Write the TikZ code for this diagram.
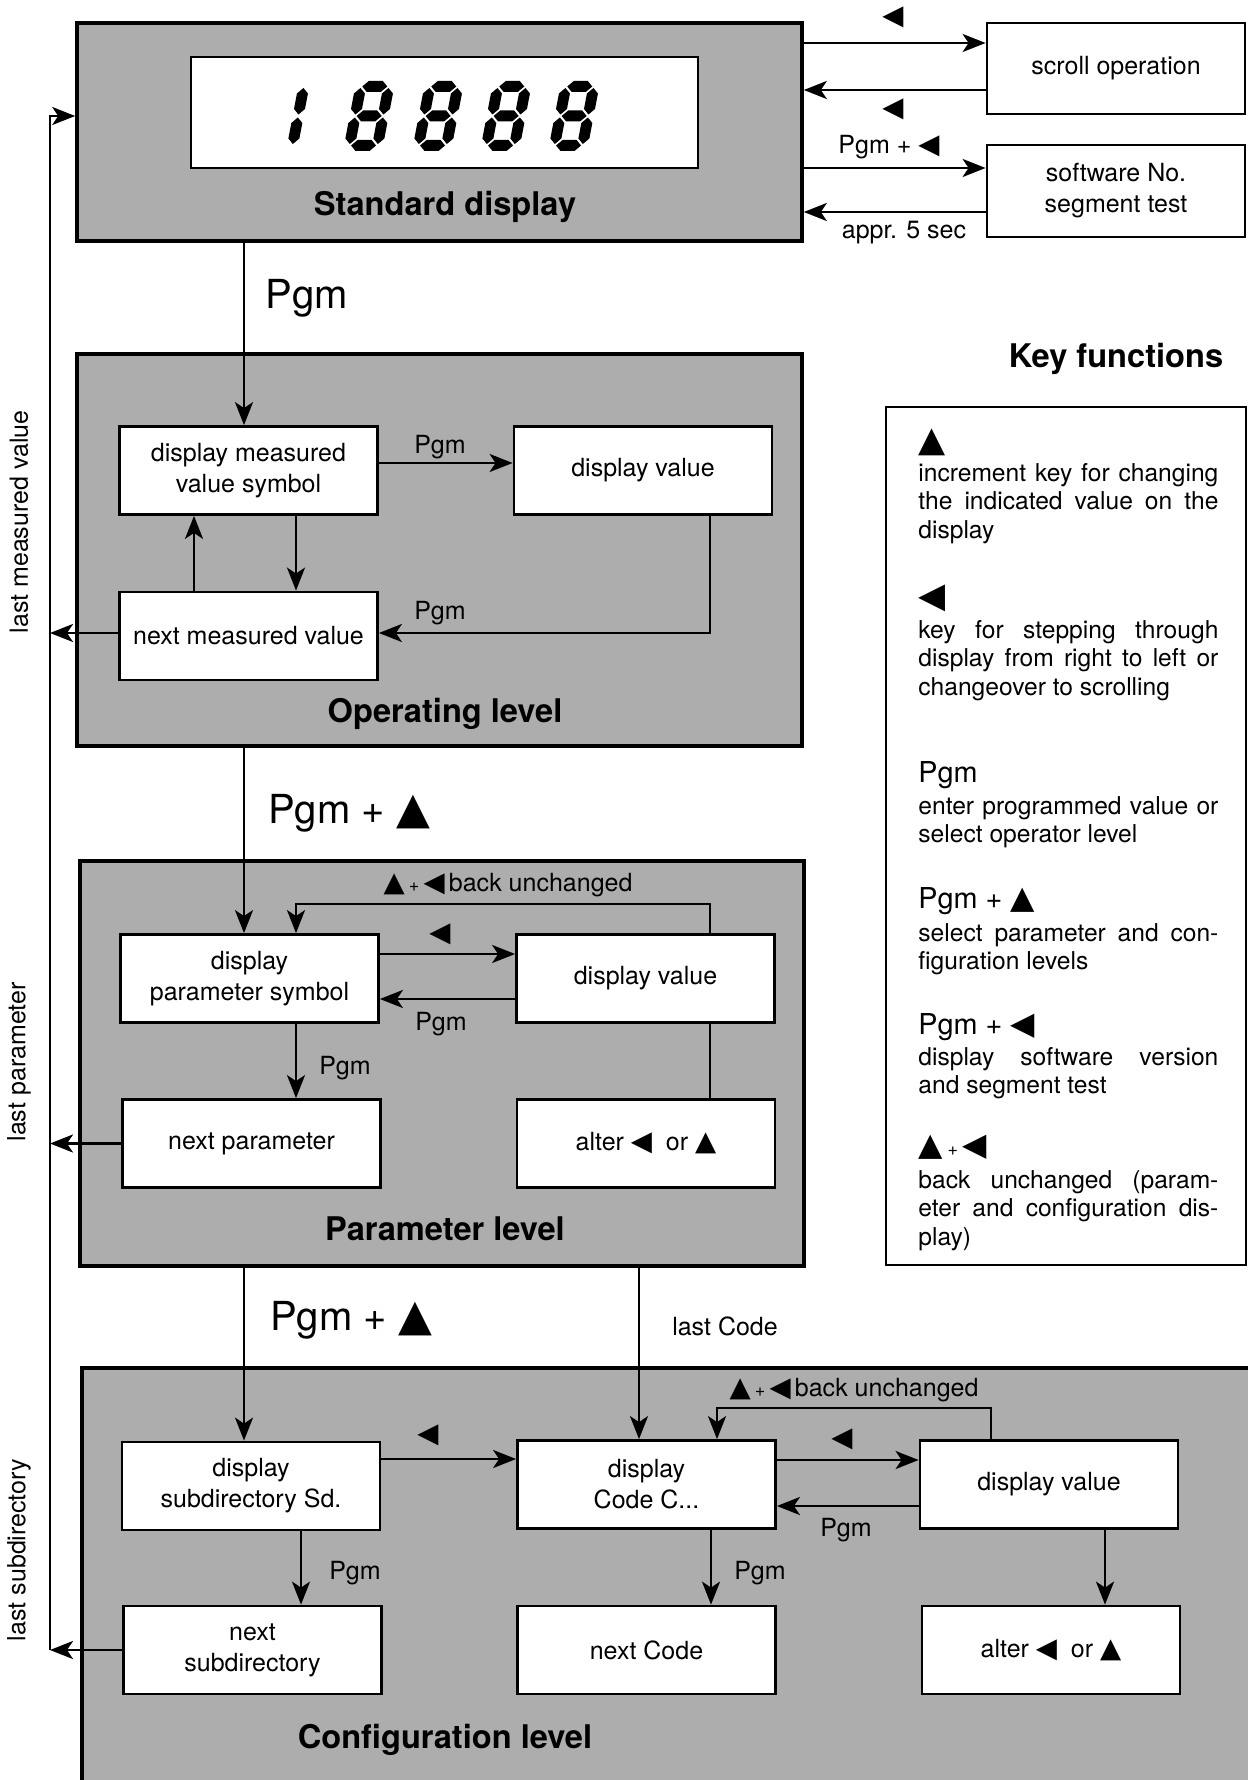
\documentclass[tikz,border=0pt]{standalone}
\usepackage{fontspec}
\setmainfont{TeX Gyre Heros}
\newfontfamily\symfont[Scale=1.1]{DejaVu Sans}
\usetikzlibrary{arrows.meta}

\newcommand\kup{{\symfont ▲}}
\newcommand\kleft{{\symfont ◀}}
\newcommand\boxfont{\fontsize{12.5}{15.5}\selectfont}
\newcommand\keyfont{\fontsize{12.3}{14.2}\selectfont}
\newcommand\headfont{\fontsize{14.4}{16}\selectfont}
\newcommand\bigfont{\fontsize{20}{22}\selectfont}
\newcommand\titlefont{\fontsize{16.3}{18}\selectfont\bfseries}
\newcommand\smallplus{{\fontsize{9}{9}\selectfont +}}
\newcommand\jline[1]{\makebox[150pt][s]{#1}}
% seven segment pieces (local units, half thickness 5.5)
\newcommand\hseg[3]{\fill (#1,#3) -- (#1+5.5,#3+5.5) -- (#2-5.5,#3+5.5) -- (#2,#3) -- (#2-5.5,#3-5.5) -- (#1+5.5,#3-5.5) -- cycle;}
\newcommand\vseg[3]{\fill (#1,#2) -- (#1+5.5,#2+5.5) -- (#1+5.5,#3-5.5) -- (#1,#3) -- (#1-5.5,#3-5.5) -- (#1-5.5,#2+5.5) -- cycle;}
\newcommand\digiteight{\hseg{7}{32}{5.5}\hseg{7}{32}{35}\hseg{7}{32}{64.5}%
  \vseg{5.5}{7}{33.5}\vseg{5.5}{36.5}{63}\vseg{33.5}{7}{33.5}\vseg{33.5}{36.5}{63}}

\begin{document}
\begin{tikzpicture}[x=0.5pt, y=-0.5pt]
    \tikzstyle{panel_style} = [draw, line width=1.8pt, fill=black!32, inner sep=0pt]
    \tikzstyle{box_style} = [draw, line width=1.4pt, fill=white, minimum width=129pt, minimum height=44pt, align=center, font=\boxfont, inner sep=2pt]
    \tikzstyle{arrow_style} = [-{Stealth[length=11.5pt, width=9pt, inset=3pt]}, line width=1.3pt]
    \tikzstyle{line_style} = [-, line width=1.3pt]
    \tikzstyle{label_style} = [font=\boxfont, inner sep=1pt]
    \tikzstyle{title_style} = [font=\titlefont, inner sep=0pt]
    \tikzstyle{big_style} = [font=\bigfont, inner sep=0pt]
    \tikzstyle{key_head} = [font=\headfont, anchor=west, inner sep=0pt]
    \tikzstyle{key_text} = [font=\keyfont, anchor=north west, align=left, inner sep=0pt]

    \useasboundingbox (0,0) rectangle (1247,1780);
    \fill[white] (0,0) rectangle (1247,1780);

    % level panels
    \node[panel_style, minimum width=362.5pt, minimum height=109pt] (stdpanel) at (439.5,132) {};
    \node[panel_style, minimum width=362.5pt, minimum height=196pt] (oppanel) at (439.5,550) {};
    \node[panel_style, minimum width=362pt, minimum height=202.5pt] (parpanel) at (442,1063.5) {};
    \node[panel_style, minimum width=590pt, minimum height=216pt] (cfgpanel) at (672,1584) {};

    % display with digits
    \node[draw, line width=1.4pt, fill=white, minimum width=253.5pt, minimum height=55.5pt] (lcd) at (444.5,112.5) {};
    \begin{scope}[shift={(286,151)}, yscale=-1, xslant=-0.19]
        \vseg{5.5}{7}{33.5}\vseg{5.5}{36.5}{63}
    \end{scope}
    \foreach \dx in {343,412,480,548} {
        \begin{scope}[shift={(\dx,151)}, yscale=-1, xslant=-0.19]
            \digiteight
        \end{scope}
    }

    \node[title_style] (stdtitle) at (445,207) {Standard display};
    \node[title_style] (optitle) at (445,714) {Operating level};
    \node[title_style] (partitle) at (445,1229) {Parameter level};
    \node[title_style] (cfgtitle) at (445,1740) {Configuration level};

    % boxes
    \node[box_style, minimum height=45.5pt] (scroll) at (1116,68.5) {scroll operation};
    \node[box_style, minimum height=46pt] (softw) at (1116,191) {software No.\\segment test};

    \node[box_style] (dms) at (248.5,470.5) {display measured\\value symbol};
    \node[box_style] (dv1) at (643,470.5) {display value};
    \node[box_style] (nmv) at (248.5,636) {next measured value};

    \node[box_style] (dps) at (249.5,978.5) {display\\parameter symbol};
    \node[box_style] (dv2) at (645.5,978.5) {display value};
    \node[box_style] (npar) at (251.5,1143.5) {next parameter};
    \node[box_style] (alt2) at (646,1143.5) {alter \kleft\ \ or \kup};

    \node[box_style] (sds) at (251,1486) {display\\subdirectory Sd.};
    \node[box_style] (dcc) at (646.5,1484.5) {display\\Code C...};
    \node[box_style] (dv3) at (1049,1484.5) {display value};
    \node[box_style] (nsd) at (252.5,1650) {next\\subdirectory};
    \node[box_style] (ncode) at (646.5,1650) {next Code};
    \node[box_style] (alt3) at (1051,1650) {alter \kleft\ \ or \kup};

    % standard display
    \draw[arrow_style] (stdpanel.east |- 0,43) -- (scroll.west |- 0,43);
    \draw[arrow_style] (scroll.west |- 0,90) -- (stdpanel.east |- 0,90);
    \draw[arrow_style] (stdpanel.east |- 0,168) -- (softw.west |- 0,168);
    \draw[arrow_style] (softw.west |- 0,212) -- (stdpanel.east |- 0,212);
    \node[label_style] (sl1) at (893,17) {\kleft};
    \node[label_style] (sl2) at (893,109) {\kleft};
    \node[label_style] (sl3) at (889,147) {Pgm + \kleft};
    \node[label_style] (sl4) at (904,233) {appr. 5 sec};

    % operating level
    \coordinate (bus_top) at (50,116);
    \coordinate (op_turn) at (710,633);
    \draw[arrow_style] (stdpanel.south -| 244,0) -- (dms.north -| 244,0);
    \node[big_style] (ol0) at (307,298) {Pgm};
    \draw[arrow_style] (dms.east |- 0,463) -- (dv1.west |- 0,463);
    \node[label_style] (ol1) at (440,447) {Pgm};
    \draw[arrow_style] (dms.south -| 296,0) -- (nmv.north -| 296,0);
    \draw[arrow_style] (nmv.north -| 194,0) -- (dms.south -| 194,0);
    \draw[arrow_style] (dv1.south -| op_turn) -- (op_turn) -- (nmv.east |- op_turn);
    \node[label_style] (ol2) at (440,613) {Pgm};
    \draw[arrow_style] (nmv.west |- op_turn) -- (bus_top |- op_turn);

    % parameter level
    \coordinate (par_a) at (710,904);
    \coordinate (par_b) at (296,904);
    \draw[arrow_style] (oppanel.south -| 244,0) -- (dps.north -| 244,0);
    \node[big_style] (pl0) at (349,813) {Pgm + \kup};
    \draw[arrow_style] (dv2.north -| par_a) -- (par_a) -- (par_b) -- (dps.north -| par_b);
    \node[label_style] (pl1) at (508,885) {\kup\,\smallplus\,\kleft\,back unchanged};
    \draw[arrow_style] (dps.east |- 0,954) -- (dv2.west |- 0,954);
    \node[label_style] (pl2) at (440,934) {\kleft};
    \draw[arrow_style] (dv2.west |- 0,999) -- (dps.east |- 0,999);
    \node[label_style] (pl3) at (441,1024) {Pgm};
    \draw[arrow_style] (dps.south -| par_b) -- (npar.north -| par_b);
    \node[label_style] (pl4) at (345,1068) {Pgm};
    \draw[line_style] (dv2.south -| par_a) -- (alt2.north -| par_a);
    \draw[arrow_style] (npar.west) -- (npar.west -| bus_top);

    % configuration level
    \coordinate (cfg_a) at (991,1408);
    \coordinate (cfg_b) at (717,1408);
    \draw[arrow_style] (parpanel.south -| 244,0) -- (sds.north -| 244,0);
    \node[big_style] (cl0) at (351,1320) {Pgm + \kup};
    \draw[arrow_style] (parpanel.south -| 639,0) -- (dcc.north -| 639,0);
    \node[label_style] (cl1) at (725,1326) {last Code};
    \draw[arrow_style] (dv3.north -| cfg_a) -- (cfg_a) -- (cfg_b) -- (dcc.north -| cfg_b);
    \node[label_style] (cl2) at (854,1390) {\kup\,\smallplus\,\kleft\,back unchanged};
    \draw[arrow_style] (sds.east |- 0,1459) -- (dcc.west |- 0,1459);
    \node[label_style] (cl3) at (428,1435) {\kleft};
    \draw[arrow_style] (dcc.east |- 0,1460) -- (dv3.west |- 0,1460);
    \node[label_style] (cl4) at (842,1439) {\kleft};
    \draw[arrow_style] (dv3.west |- 0,1506) -- (dcc.east |- 0,1506);
    \node[label_style] (cl5) at (846,1530) {Pgm};
    \draw[arrow_style] (sds.south -| 301,0) -- (nsd.north -| 301,0);
    \node[label_style] (cl6) at (355,1573) {Pgm};
    \draw[arrow_style] (dcc.south -| 711,0) -- (ncode.north -| 711,0);
    \node[label_style] (cl7) at (760,1573) {Pgm};
    \draw[arrow_style] (dv3.south -| 1105,0) -- (alt3.north -| 1105,0);
    \draw[arrow_style] (nsd.west) -- (nsd.west -| bus_top);

    % return line on the left
    \draw[arrow_style] (nsd.west -| bus_top) -- (bus_top) -- (stdpanel.west |- bus_top);
    \node[label_style, rotate=90] (ret1) at (19,522) {last measured value};
    \node[label_style, rotate=90] (ret2) at (19,1062) {last parameter};
    \node[label_style, rotate=90] (ret3) at (19,1550) {last subdirectory};

    % key functions
    \node[title_style] (keytitle) at (1116,359) {Key functions};
    \node[draw, line width=1.4pt, minimum width=180pt, minimum height=429pt] (keybox) at (1066,836) {};
    \node[key_head] (kh1) at (918,442) {\fontsize{16}{16}\selectfont\kup};
    \node[key_text] (kt1) at (918,463) {\jline{increment key for changing}\\\jline{the indicated value on the}\\display};
    \node[key_head] (kh2) at (918,598) {\fontsize{16}{16}\selectfont\kleft};
    \node[key_text] (kt2) at (918,620) {\jline{key for stepping through}\\\jline{display from right to left or}\\changeover to scrolling};
    \node[key_head] (kh3) at (918,775) {Pgm};
    \node[key_text] (kt3) at (918,796) {\jline{enter programmed value or}\\select operator level};
    \node[key_head] (kh4) at (918,901) {Pgm + \kup};
    \node[key_text] (kt4) at (918,923) {\jline{select parameter and con-}\\figuration levels};
    \node[key_head] (kh5) at (918,1027) {Pgm + \kleft};
    \node[key_text] (kt5) at (918,1047) {\jline{display software version}\\and segment test};
    \node[key_head] (kh6) at (918,1147) {\kup\,\smallplus\,\kleft};
    \node[key_text] (kt6) at (918,1170) {\jline{back unchanged (param-}\\\jline{eter and configuration dis-}\\play)};
\end{tikzpicture}
\end{document}
